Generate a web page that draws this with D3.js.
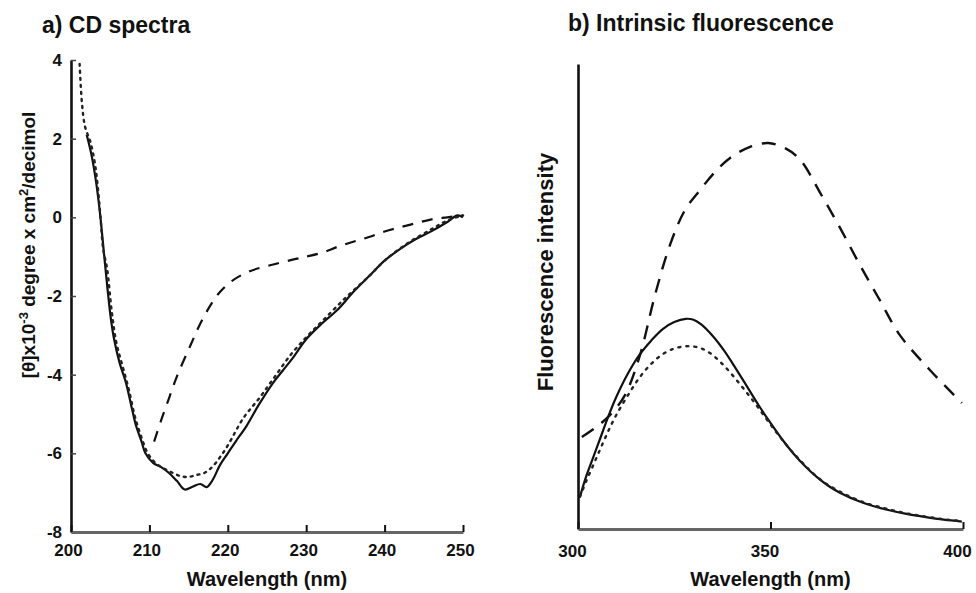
<!DOCTYPE html>
<html><head><meta charset="utf-8">
<script src="https://cdn.jsdelivr.net/npm/d3@7"></script>
<style>body{margin:0;background:#fff}svg{display:block}text{font-family:"Liberation Sans",Arial,Helvetica,sans-serif;fill:#111}</style>
</head><body><svg id="c" width="976" height="593"></svg>
<script>
// ---- Panel a: CD spectra ----
const cdXTicks = [200, 210, 220, 230, 240, 250];
const cdYTicks = [4, 2, 0, -2, -4, -6, -8];
const cdSolid = [[202,2.1],[202.6,1.6],[203.2,0.9],[203.7,0.1],[204.2,-0.9],[204.7,-1.9],[205.1,-2.6],[205.5,-3.1],[206.2,-3.7],[207,-4.2],[207.7,-4.8],[208.3,-5.3],[209,-5.7],[209.5,-6.0],[210.5,-6.25],[211.5,-6.35],[212.5,-6.5],[213.5,-6.7],[214.5,-6.92],[215.5,-6.85],[216.5,-6.78],[217.3,-6.86],[218,-6.7],[219,-6.3],[220,-6.0],[221,-5.7],[222.4,-5.3],[224,-4.75],[225.8,-4.2],[227,-3.9],[228.2,-3.6],[230,-3.1],[232,-2.7],[234,-2.35],[236,-1.9],[238,-1.5],[240,-1.1],[242,-0.8],[244,-0.55],[246,-0.35],[248,-0.12],[249.3,0.05],[250,0.0]];
const cdDotted = [[201.1,3.9],[201.4,2.9],[201.8,2.3],[202.5,1.9],[203.1,1.3],[203.5,0.6],[203.8,-0.1],[204.1,-0.8],[204.6,-1.3],[205.2,-2.4],[205.8,-3.2],[206.6,-3.8],[207.4,-4.4],[208.2,-5.1],[209,-5.6],[209.8,-6.0],[210.8,-6.25],[212,-6.4],[213,-6.5],[214,-6.58],[215,-6.6],[216,-6.55],[217,-6.5],[218,-6.35],[219,-6.1],[220,-5.8],[222,-5.1],[224,-4.6],[226,-4.05],[228,-3.5],[230,-3.05],[232,-2.65],[235,-2.05],[238,-1.5],[240,-1.1],[243,-0.65],[246,-0.3],[248,-0.08],[250,0.05]];
const cdDashed = [[210.6,-5.7],[211.6,-5.1],[212.5,-4.6],[213.5,-4.05],[215.2,-3.27],[216.5,-2.7],[217.9,-2.2],[219,-1.9],[220.5,-1.62],[222.8,-1.37],[225.8,-1.2],[228.4,-1.07],[230,-1.0],[232,-0.9],[234,-0.75],[236,-0.62],[238,-0.5],[240,-0.36],[242,-0.25],[244,-0.15],[246,-0.05],[248,0.0],[250,0.05]];

// ---- Panel b: intrinsic fluorescence ----
const flXTicks = [300, 350, 400];
const flSolid = [[300.5,6.9],[302,11],[304,15.5],[306,20],[308,24.5],[310,28.5],[313,33.5],[316,37.5],[319,40.5],[322,43],[325,44.5],[328,45.2],[330,45],[332,44],[335,41.5],[338,38.3],[341,34.5],[344,30.5],[347,26.5],[350,22.8],[353,19.3],[356,16.2],[359,13.5],[362,11.2],[365,9.3],[368,7.8],[372,6.3],[376,5.1],[380,4.2],[385,3.3],[390,2.6],[395,2.0],[399.7,1.6]];
const flDotted = [[300.5,6.9],[302,10],[304,13.8],[306,17.6],[308,21.3],[310,24.6],[313,28.8],[316,32.6],[319,35.5],[322,37.6],[325,38.8],[328,39.3],[331,39.1],[334,38.0],[337,35.9],[340,33.2],[343,30.2],[346,27.0],[349,23.6],[352,20.3],[355,17.2],[358,14.5],[361,12],[364,10],[367,8.5],[370,7.2],[375,5.5],[380,4.4],[385,3.4],[390,2.7],[395,2.1],[399.7,1.7]];
const flDashed = [[301,19.8],[304.4,21.7],[308.3,24.5],[312.2,28.8],[316.1,37.4],[320,50.3],[323.9,61.1],[327.8,68.6],[331.7,72.9],[335.6,76.8],[339.5,79.8],[344.7,82.2],[349.4,83.0],[353.8,81.9],[357.7,79.4],[362.9,72.3],[368.1,64.7],[373.2,56.8],[378.4,49.2],[383.6,41.7],[391.4,34.2],[399.7,27.1]];

const svg = d3.select("#c");

// Panel a
const ax = d3.scaleLinear().domain([200, 250]).range([71, 463]);
const ay = d3.scaleLinear().domain([-8, 4]).range([532, 60]);
const ga = svg.append("g");
const la = d3.line().x(d => ax(d[0])).y(d => ay(d[1])).curve(d3.curveCatmullRom);

ga.append("path").datum(cdSolid).attr("d", la).attr("fill","none").attr("stroke","#111").attr("stroke-width",2.2);
ga.append("path").datum(cdDotted).attr("d", la).attr("fill","none").attr("stroke","#222").attr("stroke-width",2.4).attr("stroke-dasharray","2,5").attr("stroke-linecap","round");
ga.append("path").datum(cdDashed).attr("d", la).attr("fill","none").attr("stroke","#111").attr("stroke-width",2.2).attr("stroke-dasharray","11,9");

const yAxA = ga.append("g").attr("transform", `translate(${ax(200)},0)`)
  .call(d3.axisLeft(ay).tickValues(cdYTicks).tickSizeInner(-5).tickSizeOuter(0).tickPadding(9).tickFormat(d3.format("d")));
yAxA.select(".domain").attr("stroke","#111").attr("stroke-width",2.6);
yAxA.selectAll(".tick line").attr("stroke","#444").attr("stroke-width",1.5);
yAxA.selectAll(".tick text").attr("font-size",17).attr("font-weight","bold").style("font-family","Liberation Sans, Arial, sans-serif").text(d => d < 0 ? "-" + Math.abs(d) : d);

const xAxA = ga.append("g").attr("transform", `translate(0,${ay(-8)})`)
  .call(d3.axisBottom(ax).tickValues(cdXTicks).tickSizeInner(-7).tickSizeOuter(0).tickPadding(12).tickFormat(d3.format("d")));
xAxA.select(".domain").attr("stroke","#666").attr("stroke-width",3);
xAxA.selectAll(".tick line").attr("stroke","#111").attr("stroke-width",2);
xAxA.selectAll(".tick text").attr("font-size",17).attr("font-weight","bold").attr("dx",-3).style("font-family","Liberation Sans, Arial, sans-serif");

ga.append("text").attr("x",42).attr("y",33).attr("font-size",23).attr("font-weight","bold").text("a) CD spectra");
ga.append("text").attr("x",(ax(200)+ax(250))/2).attr("y",586).attr("text-anchor","middle").attr("font-size",20).attr("font-weight","bold").text("Wavelength (nm)");
const yl = ga.append("text").attr("transform",`translate(35,245) rotate(-90)`).attr("text-anchor","middle").attr("font-size",19).attr("font-weight","bold");
yl.append("tspan").text("[θ]x10");
yl.append("tspan").attr("dy",-7).attr("font-size",13).text("-3");
yl.append("tspan").attr("dy",7).text(" degree x cm");
yl.append("tspan").attr("dy",-7).attr("font-size",13).text("2");
yl.append("tspan").attr("dy",7).text("/decimol");

// Panel b
const bx = d3.scaleLinear().domain([300, 400]).range([578, 963]);
const by = d3.scaleLinear().domain([0, 100]).range([529, 64]);
const gb = svg.append("g");
const lb = d3.line().x(d => bx(d[0])).y(d => by(d[1])).curve(d3.curveCatmullRom);

gb.append("path").datum(flSolid).attr("d", lb).attr("fill","none").attr("stroke","#111").attr("stroke-width",2.2);
gb.append("path").datum(flDotted).attr("d", lb).attr("fill","none").attr("stroke","#222").attr("stroke-width",2.4).attr("stroke-dasharray","2,6").attr("stroke-linecap","round");
gb.append("path").datum(flDashed).attr("d", lb).attr("fill","none").attr("stroke","#111").attr("stroke-width",2.4).attr("stroke-dasharray","14,10");

const yAxB = gb.append("g").attr("transform", `translate(${bx(300)},0)`)
  .call(d3.axisLeft(by).tickValues([]).tickSizeOuter(0));
yAxB.select(".domain").attr("stroke","#111").attr("stroke-width",2.6);

const xAxB = gb.append("g").attr("transform", `translate(0,${by(0)})`)
  .call(d3.axisBottom(bx).tickValues(flXTicks).tickSizeInner(-7).tickSizeOuter(0).tickPadding(16).tickFormat(d3.format("d")));
xAxB.select(".domain").attr("stroke","#666").attr("stroke-width",3);
xAxB.selectAll(".tick line").attr("stroke","#111").attr("stroke-width",2);
xAxB.selectAll(".tick text").attr("font-size",17).attr("font-weight","bold").attr("dx",-6).style("font-family","Liberation Sans, Arial, sans-serif");

gb.append("text").attr("x",568).attr("y",31).attr("font-size",23).attr("font-weight","bold").text("b) Intrinsic fluorescence");
gb.append("text").attr("x",(bx(300)+bx(400))/2).attr("y",586).attr("text-anchor","middle").attr("font-size",20).attr("font-weight","bold").text("Wavelength (nm)");
gb.append("text").attr("transform",`translate(553,272) rotate(-90)`).attr("text-anchor","middle").attr("font-size",22).attr("font-weight","bold").text("Fluorescence intensity");
</script></body></html>
